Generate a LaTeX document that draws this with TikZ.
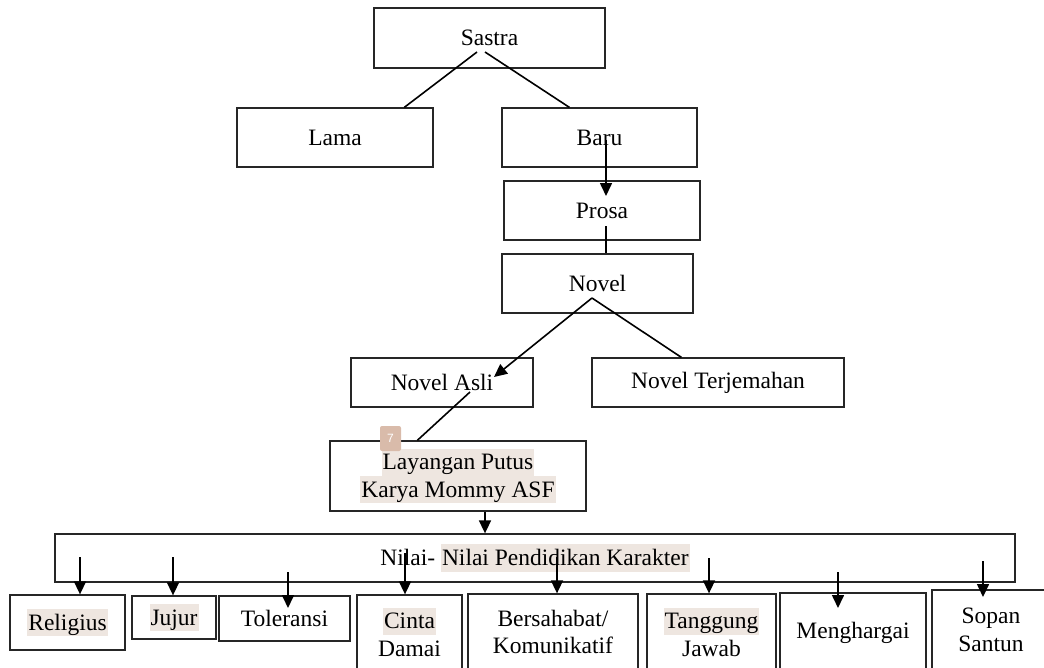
\documentclass[tikz,border=0pt]{standalone}
\usepackage{fontspec}
\setmainfont{Liberation Serif}
\newfontfamily\badgefont{Liberation Sans}
\usetikzlibrary{arrows.meta,calc}
\definecolor{hl}{HTML}{EEE6E0}
\definecolor{badge}{HTML}{D9BBAA}
\newcommand\hlt[1]{{\setlength{\fboxsep}{0pt}\colorbox{hl}{\kern1pt\rule[-0.25em]{0pt}{1.15em}#1\kern1pt}}}
\begin{document}
\begin{tikzpicture}[x=1pt,y=-1pt,
  box/.style={draw=black!85, line width=1.3pt, inner sep=0pt, align=center, font=\fontsize{23.5}{27.5}\selectfont},
  con/.style={line width=1.6pt, black},
  arr/.style={con, -{Triangle[length=13pt,width=12pt]}}]
\useasboundingbox (0,0) rectangle (1044,667);

% boxes
\node[box, minimum width=231, minimum height=60] (sastra) at (489.5,38) {Sastra};
\node[box, minimum width=196, minimum height=59] (lama) at (335,137.5) {Lama};
\node[box, minimum width=195, minimum height=59] (baru) at (599.5,137.5) {Baru};
\node[box, minimum width=196, minimum height=59] (prosa) at (602,210.5) {Prosa};
\node[box, minimum width=191, minimum height=59] (novel) at (597.5,283.5) {Novel};
\node[box, minimum width=182, minimum height=49] (asli) at (442,382.5) {Novel Asli};
\node[box, minimum width=252, minimum height=49] (terj) at (718,382.5) {Novel Terjemahan};
\node[box, minimum width=256, minimum height=70] (layang) at (458,476) {\hlt{Layangan Putus}\\\hlt{Karya Mommy ASF}};
\node[fill=badge, rounded corners=2pt, minimum width=21, minimum height=25, inner sep=0pt, text=white, font=\badgefont\fontsize{12}{12}\selectfont] (badge) at (390.5,438.5) {7};
\node[box, minimum width=960, minimum height=48] (nilai) at (535,558) {Nilai- \hlt{Nilai Pendidikan Karakter}};

\node[box, minimum width=115, minimum height=55] (relig) at (67.5,622.5) {\hlt{Religius}};
\node[box, minimum width=84, minimum height=43] (jujur) at (174,617.5) {\hlt{Jujur}};
\node[box, minimum width=131, minimum height=45] (toler) at (284.5,618.5) {Toleransi};
\node[box, minimum width=105, minimum height=74] (cinta) at (409.5,632) {\hlt{Cinta}\\Damai};
\node[box, minimum width=170, minimum height=76] (bers) at (553,632) {Bersahabat/\\Komunikatif};
\node[box, minimum width=129, minimum height=76] (tang) at (711.5,632) {\hlt{Tanggung}\\Jawab};
\node[box, minimum width=146, minimum height=80] (meng) at (853,633) {Menghargai};
\node[box, minimum width=118, minimum height=80] (sopan) at (991,630) {Sopan\\Santun};

% connectors
\coordinate (s1) at (477,52);
\coordinate (s2) at (485,52);
\draw[con] (s1) -- ([xshift=168pt]lama.north west);
\draw[con] (s2) -- ([xshift=68pt]baru.north west);
\coordinate (b1) at (606,140);
\coordinate (p1) at (606,196);
\draw[arr] (b1) -- (p1);
\coordinate (p2) at (606,226);
\draw[con] (p2) -- (p2 |- novel.north);
\coordinate (n1) at (592,298);
\coordinate (a1) at (494,377);
\draw[arr] (n1) -- (a1);
\draw[con] (n1) -- ([xshift=90pt]terj.north west);
\coordinate (a2) at (470,392);
\draw[con] (a2) -- ([xshift=88pt]layang.north west);
\coordinate (l1) at ([xshift=27pt]layang.south);
\draw[arr] (l1) -- (l1 |- nilai.north);

\coordinate (r1) at (80,557);
\draw[arr] (r1) -- (r1 |- relig.north);
\coordinate (j1) at (173,557);
\draw[arr] (j1) -- (j1 |- jujur.north);
\coordinate (t1) at (288,572);
\coordinate (t2) at (288,608);
\draw[arr] (t1) -- (t2);
\coordinate (c1) at (405,553);
\draw[arr] (c1) -- (c1 |- cinta.north);
\coordinate (bs1) at (557,557);
\draw[arr] (bs1) -- (bs1 |- bers.north);
\coordinate (tg1) at (709,558);
\draw[arr] (tg1) -- (tg1 |- tang.north);
\coordinate (m1) at (838,572);
\coordinate (m2) at (838,608);
\draw[arr] (m1) -- (m2);
\coordinate (sp1) at (983,561);
\coordinate (sp2) at (983,597);
\draw[arr] (sp1) -- (sp2);
\end{tikzpicture}
\end{document}
